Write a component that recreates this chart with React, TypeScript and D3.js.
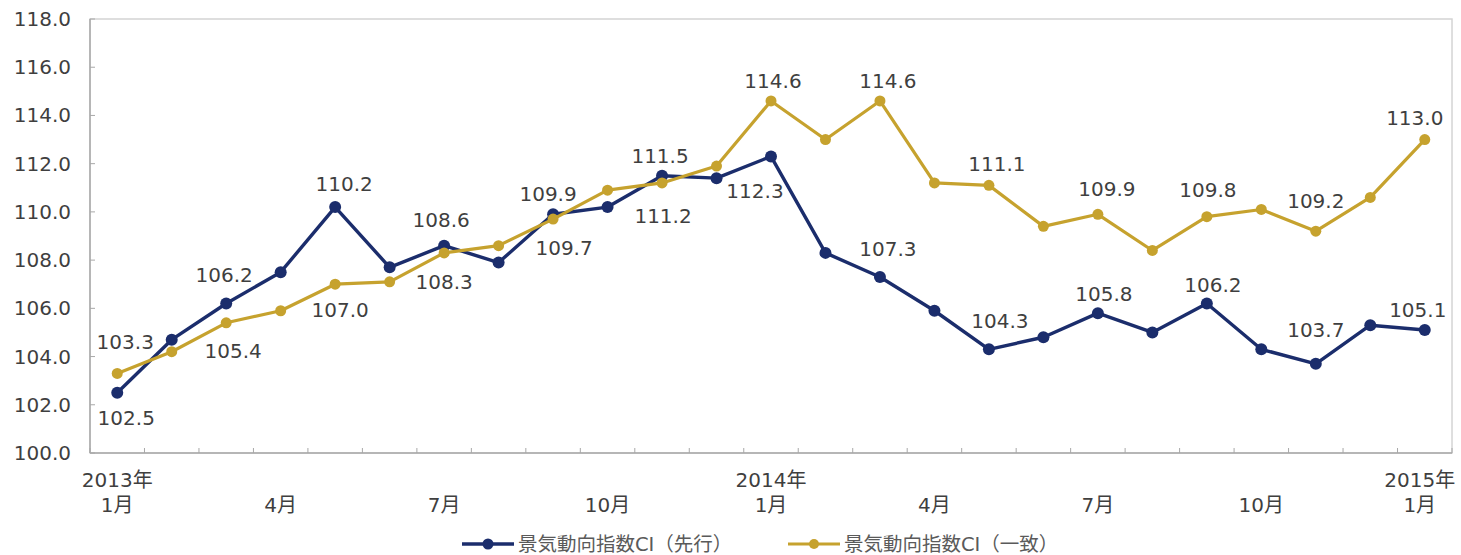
import * as d3 from 'd3';

// 景気動向指数 (CI) 2013年1月〜2015年1月
const MONTHS = [
  '2013-01', '2013-02', '2013-03', '2013-04', '2013-05', '2013-06', '2013-07', '2013-08', '2013-09',
  '2013-10', '2013-11', '2013-12', '2014-01', '2014-02', '2014-03', '2014-04', '2014-05', '2014-06',
  '2014-07', '2014-08', '2014-09', '2014-10', '2014-11', '2014-12', '2015-01',
];
const LEADING = [
  102.5, 104.7, 106.2, 107.5, 110.2, 107.7, 108.6, 107.9, 109.9, 110.2, 111.5, 111.4, 112.3,
  108.3, 107.3, 105.9, 104.3, 104.8, 105.8, 105.0, 106.2, 104.3, 103.7, 105.3, 105.1,
];
const COINCIDENT = [
  103.3, 104.2, 105.4, 105.9, 107.0, 107.1, 108.3, 108.6, 109.7, 110.9, 111.2, 111.9, 114.6,
  113.0, 114.6, 111.2, 111.1, 109.4, 109.9, 108.4, 109.8, 110.1, 109.2, 110.6, 113.0,
];
const Y_TICKS = [100, 102, 104, 106, 108, 110, 112, 114, 116, 118];
const X_LABELS: Record<number, string[]> = {
  0: ['2013年', '1月'],
  3: ['4月'],
  6: ['7月'],
  9: ['10月'],
  12: ['2014年', '1月'],
  15: ['4月'],
  18: ['7月'],
  21: ['10月'],
  24: ['2015年', '1月'],
};
const SERIES_NAMES = ['景気動向指数CI（先行）', '景気動向指数CI（一致）'];

// label offsets (dx, dy) from the point, only every other month is labelled
const LEAD_LABEL_OFFSETS: Record<number, [number, number]> = {
  0: [9, 25], 2: [-2, -29], 4: [9, -23], 6: [-3, -26], 8: [-5, -20], 10: [-2, -20],
  12: [-16, 35], 14: [8, -28], 16: [11, -28], 18: [6, -19], 20: [6, -19], 22: [0, -34], 24: [-7, -20],
};
const COIN_LABEL_OFFSETS: Record<number, [number, number]> = {
  0: [8, -31], 2: [7, 28], 4: [5, 26], 6: [0, 29], 8: [11, 29], 10: [1, 33],
  12: [2, -20], 14: [8, -20], 16: [8, -21], 18: [9, -25], 20: [1, -27], 22: [0, -30], 24: [-10, -22],
};

const WIDTH = 1461;
const HEIGHT = 555;
const PLOT = { left: 90, right: 1452, top: 19, bottom: 453 };
const BLUE = '#1b2d6c';
const GOLD = '#c6a22e';
const TEXT = '#3f3f3f';
const FONT = '"DejaVu Sans", "Noto Sans CJK JP", sans-serif';

export default function App() {
  const x = d3.scaleBand<number>()
    .domain(MONTHS.map((_, i) => i))
    .range([PLOT.left, PLOT.right]);
  const bw = x.bandwidth();
  const cx = (i: number) => (x(i) ?? 0) + bw / 2;
  const y = d3.scaleLinear().domain([100, 118]).range([PLOT.bottom, PLOT.top]);

  const line = d3.line<number>().x((_, i) => cx(i)).y(d => y(d));

  const series = [
    { values: LEADING, color: BLUE, width: 3.4, r: 6, offsets: LEAD_LABEL_OFFSETS },
    { values: COINCIDENT, color: GOLD, width: 3.2, r: 5.5, offsets: COIN_LABEL_OFFSETS },
  ];

  const boundaries = d3.range(MONTHS.length + 1).map(i => PLOT.left + i * bw);

  return (
    <svg
      width={WIDTH}
      height={HEIGHT}
      style={{ position: 'absolute', left: 0, top: 0, background: '#fff' }}
      fontFamily={FONT}
    >
      {/* plot frame */}
      <rect
        x={PLOT.left}
        y={PLOT.top}
        width={PLOT.right - PLOT.left}
        height={PLOT.bottom - PLOT.top}
        fill="none"
        stroke="#d4d4d4"
        strokeWidth={1.5}
      />
      <line x1={PLOT.left} x2={PLOT.left} y1={PLOT.top} y2={PLOT.bottom} stroke="#a8a8a8" strokeWidth={1.5} />
      <line x1={PLOT.left} x2={PLOT.right} y1={PLOT.bottom} y2={PLOT.bottom} stroke="#a8a8a8" strokeWidth={1.5} />

      {/* y axis */}
      {Y_TICKS.map(t => (
        <g key={t}>
          <line x1={PLOT.left} x2={PLOT.left + 5} y1={y(t)} y2={y(t)} stroke="#a8a8a8" />
          <text
            x={71}
            y={y(t)}
            textAnchor="end"
            dominantBaseline="central"
            fontSize={20}
            fill={TEXT}
          >
            {d3.format('.1f')(t)}
          </text>
        </g>
      ))}

      {/* x axis */}
      {boundaries.map((b, i) => (
        <line key={i} x1={b} x2={b} y1={PLOT.bottom} y2={PLOT.bottom - 5} stroke="#a8a8a8" />
      ))}
      {Object.entries(X_LABELS).map(([k, lines]) => {
        const i = +k;
        const px = i === MONTHS.length - 1 ? cx(i) - 5 : cx(i);
        return (
          <text key={k} x={px} textAnchor="middle" fontSize={20} fill={TEXT}>
            {lines.length === 2 && <tspan x={px} y={487}>{lines[0]}</tspan>}
            <tspan x={px} y={512}>{lines[lines.length - 1]}</tspan>
          </text>
        );
      })}

      {/* series */}
      {series.map((s, si) => (
        <g key={si}>
          <path d={line(s.values) ?? ''} fill="none" stroke={s.color} strokeWidth={s.width} strokeLinejoin="round" />
          {s.values.map((v, i) => (
            <circle key={i} cx={cx(i)} cy={y(v)} r={s.r} fill={s.color} />
          ))}
        </g>
      ))}

      {/* data labels */}
      {series.map((s, si) => (
        <g key={`l${si}`}>
          {Object.entries(s.offsets).map(([k, [dx, dy]]) => {
            const i = +k;
            return (
              <text
                key={k}
                x={cx(i) + dx}
                y={y(s.values[i]) + dy}
                textAnchor="middle"
                dominantBaseline="central"
                fontSize={20}
                fill={TEXT}
              >
                {d3.format('.1f')(s.values[i])}
              </text>
            );
          })}
        </g>
      ))}

      {/* legend */}
      {series.map((s, si) => {
        const lx = si === 0 ? 462 : 788;
        const ly = 544;
        return (
          <g key={`lg${si}`}>
            <line x1={lx} x2={lx + 52} y1={ly} y2={ly} stroke={s.color} strokeWidth={s.width} />
            <circle cx={lx + 26} cy={ly} r={s.r - 0.5} fill={s.color} />
            <text x={lx + 56} y={ly} dominantBaseline="central" fontSize={19.5} fill="#5a5a5a">
              {SERIES_NAMES[si]}
            </text>
          </g>
        );
      })}
    </svg>
  );
}
